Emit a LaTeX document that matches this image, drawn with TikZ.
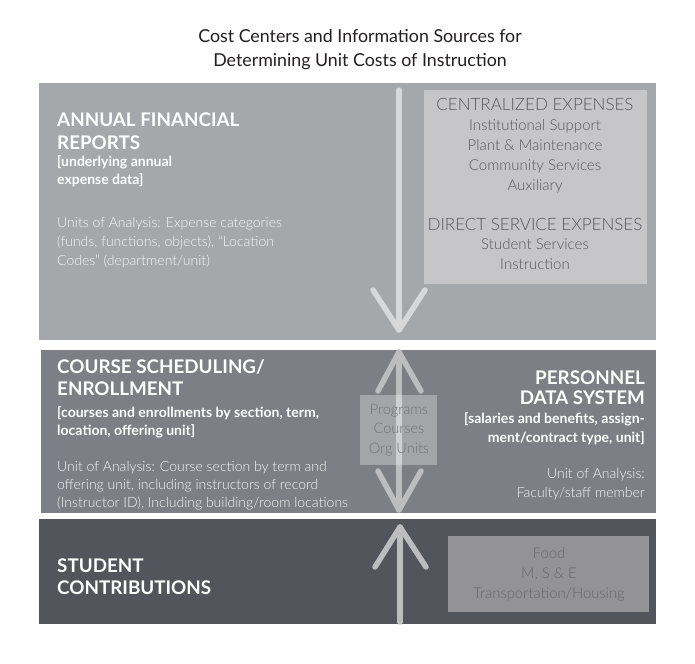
\documentclass[tikz,border=0pt]{standalone}
\usepackage{fontspec}
\setmainfont{Lato}
\newfontfamily\lightf{Lato Light}
\definecolor{pone}{HTML}{A6A7AB}
\definecolor{ptwo}{HTML}{7E7F84}
\definecolor{pthree}{HTML}{53545C}
\definecolor{lbox}{HTML}{C6C6C9}
\definecolor{lboxtxt}{HTML}{58585D}
\definecolor{fbox}{HTML}{929297}
\definecolor{fboxtxt}{HTML}{66666B}
\definecolor{arrone}{HTML}{D8D8DA}
\definecolor{arrtwo}{HTML}{BDBDC0}
\definecolor{titlec}{HTML}{231F20}
\definecolor{bodyc}{HTML}{F6F6F6}
\definecolor{progtxt}{HTML}{707075}
\tikzset{
  lt/.style={inner sep=0pt, align=left, anchor=base west},
  rt/.style={inner sep=0pt, align=right, anchor=base east},
  ct/.style={inner sep=0pt, align=center, anchor=base},
  head/.style={text=white, font=\bfseries\fontsize{18.8}{22}\selectfont},
  sub/.style={text=white, font=\bfseries\fontsize{14}{18}\selectfont},
  body/.style={text=bodyc, font=\lightf\fontsize{14}{18}\selectfont},
  arrowline/.style={line width=5.5pt, line cap=round, line join=round},
}
\begin{document}
\begin{tikzpicture}[x=1pt,y=-1pt]
\useasboundingbox (0,0) rectangle (695,663);
\fill[white] (0,0) rectangle (695,663);
% title (base anchor = last line)
\node[ct, text=titlec, font=\fontsize{17.8}{24}\selectfont] (title) at (360,67)
  {Cost Centers and Information Sources for\\Determining Unit Costs of Instruction};
% panels
\fill[pone] (39,83) rectangle (656,340);
\fill[ptwo] (41,350) rectangle (656,513);
\fill[pthree] (39,519) rectangle (656,624);
% panel 1
\node[lt, head, font=\bfseries\fontsize{18.8}{22.5}\selectfont] (afr) at (57,149.5) {ANNUAL FINANCIAL\\REPORTS};
\node[lt, sub, font=\bfseries\fontsize{14}{17.5}\selectfont] (afrsub) at (57,184.5) {[underlying annual\\expense data]};
\node[lt, body, font=\lightf\fontsize{14}{19}\selectfont] (afrbody) at (57,265)
  {Units of Analysis: Expense categories\\(funds, functions, objects), “Location\\Codes” (department/unit)};
\fill[lbox] (424,90) rectangle (647,284);
\node[ct, text=lboxtxt, font=\lightf\fontsize{15}{20}\selectfont] (cent) at (535,190)
  {{\fontsize{17}{20}\selectfont CENTRALIZED EXPENSES}\\Institutional Support\\Plant \& Maintenance\\Community Services\\Auxiliary};
\node[ct, text=lboxtxt, font=\lightf\fontsize{15}{19.5}\selectfont] (direct) at (535,269)
  {{\fontsize{17}{19.5}\selectfont DIRECT SERVICE EXPENSES}\\Student Services\\Instruction};
\coordinate (dtop) at (399,90);
\coordinate (dtip) at (399,330);
\coordinate (dl) at (373,290);
\coordinate (dr) at (425,290);
\draw[arrowline, arrone] (dtop) -- (dtip);
\draw[arrowline, arrone] (dl) -- (dtip) -- (dr);
% panel 2
\node[lt, head] (cse) at (57,395) {COURSE SCHEDULING/\\ENROLLMENT};
\node[lt, sub] (csesub) at (57,435) {[courses and enrollments by section, term,\\location, offering unit]};
\node[lt, body] (csebody) at (57,507)
  {Unit of Analysis: Course section by term and\\offering unit, including instructors of record\\(Instructor ID), Including building/room locations};
\node[rt, head, font=\bfseries\fontsize{18.8}{20}\selectfont] (pds) at (645,404) {PERSONNEL\\DATA SYSTEM};
\node[rt, sub, font=\bfseries\fontsize{14}{19}\selectfont] (pdssub) at (645,442) {[salaries and benefits, assign-\\ment/contract type, unit]};
\node[rt, body, font=\lightf\fontsize{14}{19}\selectfont] (pdsbody) at (645,497) {Unit of Analysis:\\Faculty/staff member};
\coordinate (utip) at (399,352);
\coordinate (btip) at (399,510);
\coordinate (ul) at (378,391);
\coordinate (ur) at (421,391);
\coordinate (bl) at (378,471);
\coordinate (br) at (421,471);
\draw[arrowline, arrtwo] (utip) -- (btip);
\draw[arrowline, arrtwo] (ul) -- (utip) -- (ur);
\draw[arrowline, arrtwo] (bl) -- (btip) -- (br);
\fill[white, opacity=0.3] (360,395) rectangle (437,465);
\node[ct, text=progtxt, font=\lightf\fontsize{14.5}{19.5}\selectfont] (prog) at (399,453)
  {Programs\\Courses\\Org Units};
% panel 3
\node[lt, head] (stu) at (57,594) {STUDENT\\CONTRIBUTIONS};
\coordinate (sbot) at (400,622);
\coordinate (stip) at (400,527);
\coordinate (sl) at (375,567);
\coordinate (sr) at (426,567);
\draw[arrowline, arrtwo] (sbot) -- (stip);
\draw[arrowline, arrtwo] (sl) -- (stip) -- (sr);
\fill[fbox] (448,536) rectangle (649,612);
\node[ct, text=fboxtxt, font=\lightf\fontsize{14.8}{20}\selectfont] (food) at (549,598)
  {Food\\M, S \& E\\Transportation/Housing};
\end{tikzpicture}
\end{document}
